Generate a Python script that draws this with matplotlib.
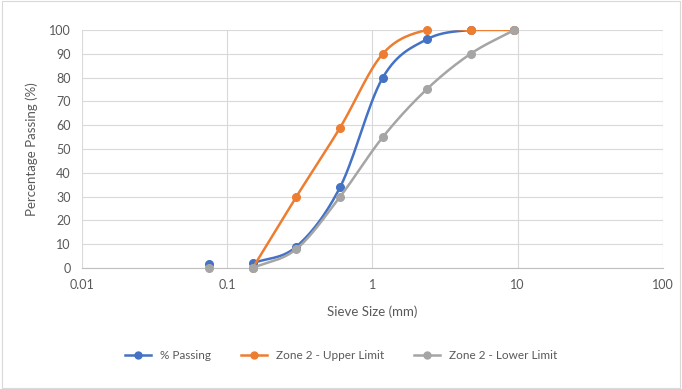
import numpy as np
import matplotlib
matplotlib.use("Agg")
import matplotlib.pyplot as plt
from matplotlib.patches import Rectangle

plt.rcParams['font.family'] = ['Lato', 'DejaVu Sans']

# sieve sizes (mm)
sieves = [0.075, 0.15, 0.3, 0.6, 1.18, 2.36, 4.75, 9.5]
passing = [1.5, 2, 9, 34, 80, 96, 100, 100]
upper = [None, 0, 30, 59, 90, 100, 100, 100]
lower = [0, 0, 8, 30, 55, 75, 90, 100]

names = ['% Passing', 'Zone 2 - Upper Limit', 'Zone 2 - Lower Limit']
colors = ['#4472C4', '#ED7D31', '#A5A5A5']


def smooth(xs, ys, n=30):
    # catmull-rom through points, in log-x space (like excel smoothed lines)
    lx = np.log10(xs)
    ys = np.array(ys, dtype=float)
    px = np.concatenate([[2*lx[0]-lx[1]], lx, [2*lx[-1]-lx[-2]]])
    py = np.concatenate([[2*ys[0]-ys[1]], ys, [2*ys[-1]-ys[-2]]])
    outx, outy = [], []
    t = np.linspace(0, 1, n)
    for i in range(1, len(px)-2):
        for p, out in ((px, outx), (py, outy)):
            p0, p1, p2, p3 = p[i-1], p[i], p[i+1], p[i+2]
            seg = 0.5*((2*p1) + (-p0+p2)*t + (2*p0-5*p1+4*p2-p3)*t**2
                       + (-p0+3*p1-3*p2+p3)*t**3)
            out.extend(seg)
    return 10**np.array(outx), np.array(outy)


fig = plt.figure(figsize=(6.82, 3.89), dpi=100)
fig.patches.append(Rectangle((0.003, 0.003), 0.994, 0.994, transform=fig.transFigure,
                             fill=False, edgecolor='#D9D9D9', lw=0.8))
ax = fig.add_axes([0.120, 0.311, 0.852, 0.612])

# series drawn in order, each one on top of the previous (excel style)
z = 2
for ys, c, name in zip([passing, upper, lower], colors, names):
    pts = [(x, y) for x, y in zip(sieves, ys) if y is not None]
    # first sieve (0.075) is not joined to the curve
    if pts[0][0] == 0.075:
        ax.plot(pts[0][0], pts[0][1], 'o', color=c, ms=5.5, zorder=z+0.5, clip_on=False)
        pts = pts[1:]
    xs = [p[0] for p in pts]
    yv = [p[1] for p in pts]
    sx, sy = smooth(xs, yv)
    ax.plot(sx, sy, color=c, lw=1.8, zorder=z)
    ax.plot(xs, yv, 'o', color=c, ms=5.5, zorder=z+0.5, clip_on=False)
    ax.plot([], [], '-o', color=c, lw=1.8, ms=5, label=name)
    z += 1

ax.set_xscale('log')
ax.set_xlim(0.01, 100)
ax.set_ylim(0, 100)
ax.set_yticks(range(0, 101, 10))
ax.set_xticks([0.01, 0.1, 1, 10, 100])
ax.set_xticklabels(['0.01', '0.1', '1', '10', '100'])
ax.minorticks_off()
ax.grid(True, color='#D9D9D9', lw=0.8)
ax.set_axisbelow(True)
for s in ['top', 'right', 'left']:
    ax.spines[s].set_visible(False)
ax.spines['bottom'].set_color('#BFBFBF')
ax.tick_params(length=0, labelsize=9, colors='#595959', pad=8)

ax.set_xlabel('Sieve Size (mm)', fontsize=9.5, color='#595959', labelpad=10)
ax.set_ylabel('Percentage Passing (%)', fontsize=9.5, color='#595959', labelpad=8)

fig.legend(loc='center', bbox_to_anchor=(0.5, 0.085), ncol=3, frameon=False,
           fontsize=8.5, labelcolor='#595959', handlelength=2.2, columnspacing=2.5)

plt.savefig('out.png', dpi=100)
